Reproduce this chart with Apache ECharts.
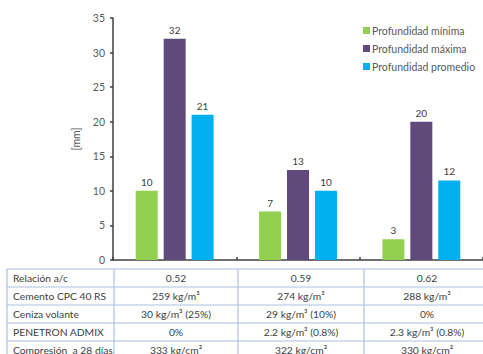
<!DOCTYPE html>
<html>
<head>
<meta charset="utf-8">
<script src="https://cdn.jsdelivr.net/npm/echarts@6/dist/echarts.min.js"></script>
<style>
  html, body { margin: 0; padding: 0; background: #fff; }
  #chart { width: 483px; height: 354px; }
</style>
</head>
<body>
<div id="chart"></div>
<script>
// Penetration depth per water/cement ratio
const categories = ['0.52', '0.59', '0.62'];
const seriesNames = ['Profundidad mínima', 'Profundidad máxima', 'Profundidad promedio'];
const profMinima = [10, 7, 3];
const profMaxima = [32, 13, 20];
const profPromedio = [21, 10, 11.5];
const yTicks = [0, 5, 10, 15, 20, 25, 30, 35];

// Mix design table under the chart
const rowLabels = ['Relación a/c', 'Cemento CPC 40 RS', 'Ceniza volante', 'PENETRON ADMIX', 'Compresión  a 28 días'];
const cemento = ['259 kg/m³', '274 kg/m³', '288 kg/m³'];
const ceniza = ['30 kg/m³ (25%)', '29 kg/m³ (10%)', '0%'];
const penetron = ['0%', '2.2 kg/m³ (0.8%)', '2.3 kg/m³ (0.8%)'];
const compresion = ['333 kg/cm²', '322 kg/cm²', '330 kg/cm²'];
const tableRows = [categories, cemento, ceniza, penetron, compresion];

const colors = ['#92d050', '#604a7b', '#00b0f0'];
const font = 'Lato';

const chart = echarts.init(document.getElementById('chart'), null, { renderer: 'svg' });

// table geometry
const tblTop = 269, rowH = 18, tblLeft = 7;
const colX = [7, 114, 238, 364, 490];
const lineColor = '#a9c1e1';
const cellText = { fill: '#404040', fontSize: 10.3, fontFamily: font, verticalAlign: 'middle' };
const graphics = [];
for (let r = 0; r <= rowLabels.length; r++) {
  graphics.push({ type: 'line', silent: true,
    shape: { x1: tblLeft, y1: tblTop + r * rowH, x2: 483, y2: tblTop + r * rowH },
    style: { stroke: lineColor, lineWidth: 1.2 } });
}
for (let c = 0; c < 4; c++) {
  graphics.push({ type: 'line', silent: true,
    shape: { x1: colX[c], y1: tblTop, x2: colX[c], y2: tblTop + rowH * rowLabels.length },
    style: { stroke: lineColor, lineWidth: 1.2 } });
}
rowLabels.forEach((lbl, r) => {
  const cy = tblTop + r * rowH + rowH / 2;
  graphics.push({ type: 'text', silent: true, x: 13, y: cy,
    style: Object.assign({ text: lbl, align: 'left' }, cellText) });
  tableRows[r].forEach((val, c) => {
    graphics.push({ type: 'text', silent: true, x: (colX[c + 1] + colX[c + 2]) / 2, y: cy,
      style: Object.assign({ text: val, align: 'center' }, cellText) });
  });
});

const labelStyle = {
  show: true, position: 'top', distance: 4,
  color: '#404040', fontSize: 10, fontFamily: font,
  formatter: p => String(Math.round(p.value))
};

function barSeries(name, data, color) {
  return {
    name, type: 'bar', data, barWidth: 22, barGap: '27%',
    itemStyle: { color },
    label: labelStyle
  };
}

chart.setOption({
  animation: false,
  color: colors,
  textStyle: { fontFamily: font },
  grid: { left: 113, right: -5, top: 18, bottom: 94, containLabel: false },
  legend: {
    orient: 'vertical', left: 358, top: 20,
    itemWidth: 7, itemHeight: 7, itemGap: 7,
    icon: 'rect',
    textStyle: { color: '#595959', fontSize: 10.5, fontFamily: font, padding: [0, 0, 0, -3] },
    data: seriesNames
  },
  xAxis: {
    type: 'category', data: categories,
    axisLine: { lineStyle: { color: '#404040', width: 1.5 } },
    axisTick: { show: true, inside: true, length: 3, lineStyle: { color: '#404040', width: 1.5 } },
    axisLabel: { show: false }
  },
  yAxis: {
    type: 'value', min: yTicks[0], max: yTicks[yTicks.length - 1], interval: 5,
    name: '[mm]', nameLocation: 'middle', nameGap: 30,
    nameTextStyle: { color: '#595959', fontSize: 10.5, fontFamily: font },
    axisLine: { show: true, lineStyle: { color: '#404040', width: 1.5 } },
    axisTick: { show: true, length: 3, lineStyle: { color: '#404040', width: 1.5 } },
    axisLabel: { color: '#595959', fontSize: 10.5, fontFamily: font, margin: 8 },
    splitLine: { show: false }
  },
  series: [
    barSeries(seriesNames[0], profMinima, colors[0]),
    barSeries(seriesNames[1], profMaxima, colors[1]),
    barSeries(seriesNames[2], profPromedio, colors[2])
  ],
  graphic: graphics
});
</script>
</body>
</html>
